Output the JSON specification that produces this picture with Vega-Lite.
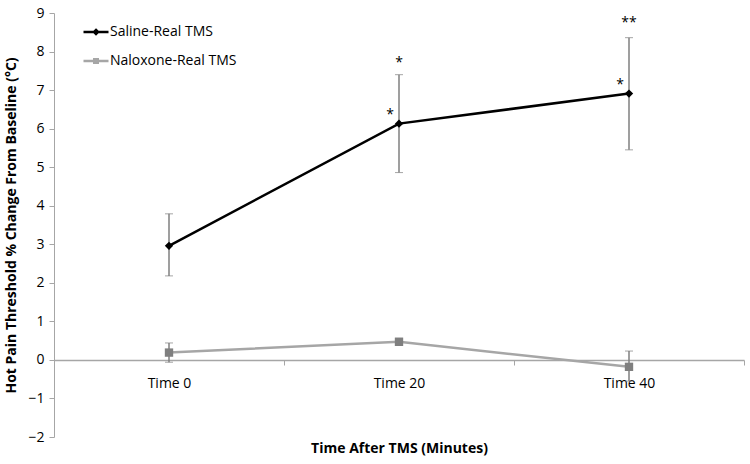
{
  "$schema": "https://vega.github.io/schema/vega-lite/v6.json",
  "width": 690,
  "height": 424,
  "autosize": "none",
  "padding": {"left": 54, "top": 13, "right": 6, "bottom": 27},
  "background": "white",
  "config": {
    "font": "Open Sans",
    "view": {"stroke": null},
    "axis": {"labelFont": "Open Sans", "titleFont": "Open Sans", "labelColor": "#000", "titleColor": "#000", "grid": false},
    "axisY": {
      "title": "Hot Pain Threshold % Change From Baseline (°C)", "titleFontSize": 14, "titleFontWeight": "bold", "titlePadding": 9,
      "labelFontSize": 14, "labelPadding": 5, "tickSize": 5, "domainColor": "#a6a6a6", "tickColor": "#a6a6a6"
    }
  },
  "datasets": {
    "main": [
      {"time": "Time 0", "series": "Saline-Real TMS", "value": 2.96, "lo": 2.18, "hi": 3.79},
      {"time": "Time 20", "series": "Saline-Real TMS", "value": 6.13, "lo": 4.86, "hi": 7.4},
      {"time": "Time 40", "series": "Saline-Real TMS", "value": 6.91, "lo": 5.45, "hi": 8.36},
      {"time": "Time 0", "series": "Naloxone-Real TMS", "value": 0.19, "lo": -0.06, "hi": 0.44},
      {"time": "Time 20", "series": "Naloxone-Real TMS", "value": 0.47, "lo": 0.38, "hi": 0.56},
      {"time": "Time 40", "series": "Naloxone-Real TMS", "value": -0.18, "lo": -0.55, "hi": 0.23}
    ],
    "stars": [
      {"time": "Time 20", "y": 7.79, "label": "*", "kind": "top"},
      {"time": "Time 20", "y": 6.42, "label": "*", "kind": "side"},
      {"time": "Time 40", "y": 8.83, "label": "**", "kind": "top"},
      {"time": "Time 40", "y": 7.22, "label": "*", "kind": "side"}
    ]
  },
  "encoding": {
    "x": {
      "field": "time", "type": "ordinal",
      "scale": {"type": "band", "domain": ["Time 0", "Time 20", "Time 40"], "paddingInner": 0, "paddingOuter": 0},
      "axis": {
        "title": "Time After TMS (Minutes)",
        "titleFontSize": 14, "titleFontWeight": "bold", "titlePadding": 51,
        "labelAngle": 0, "labelFontSize": 14, "labelPadding": 11,
        "offset": -77, "tickBand": "extent", "tickSize": 5,
        "domainColor": "#a6a6a6", "tickColor": "#a6a6a6", "domainWidth": 1.5
      }
    }
  },
  "layer": [
    {
      "data": {"name": "main"},
      "mark": {"type": "errorbar", "ticks": {"size": 8, "color": "#7f7f7f", "strokeWidth": 1.5}, "rule": {"color": "#7f7f7f", "strokeWidth": 1.5}},
      "encoding": {
        "y": {"field": "lo", "type": "quantitative", "scale": {"domain": [-2, 9], "nice": false},
          "axis": {"values": [-2, -1, 0, 1, 2, 3, 4, 5, 6, 7, 8, 9], "title": "Hot Pain Threshold % Change From Baseline (°C)"}},
        "y2": {"field": "hi"},
        "detail": {"field": "series"}
      }
    },
    {
      "data": {"name": "main"},
      "mark": {"type": "line", "strokeWidth": 2.5},
      "encoding": {
        "y": {"field": "value", "type": "quantitative", "scale": {"domain": [-2, 9], "nice": false},
          "axis": {"values": [-2, -1, 0, 1, 2, 3, 4, 5, 6, 7, 8, 9], "title": "Hot Pain Threshold % Change From Baseline (°C)"}},
        "stroke": {"field": "series", "type": "nominal", "scale": {"domain": ["Saline-Real TMS", "Naloxone-Real TMS"], "range": ["#000000", "#a6a6a6"]},
          "legend": {
            "title": null, "orient": "none", "legendX": 28, "legendY": 5,
            "labelFontSize": 14, "labelColor": "#000", "labelOffset": 0, "rowPadding": 8,
            "symbolSize": 625, "symbolStrokeWidth": 2.5,
            "encode": {
              "symbols": {
                "update": {
                  "shape": {"signal": "datum.value == 'Saline-Real TMS' ? 'M-1,0L1,0M0,-0.16L0.16,0L0,0.16L-0.16,0Z' : 'M-1,0L1,0M-0.14,-0.14L0.14,-0.14L0.14,0.14L-0.14,0.14Z'"},
                  "fill": {"signal": "datum.value == 'Saline-Real TMS' ? '#000000' : '#7f7f7f'"},
                  "fillOpacity": {"value": 1}
                }
              }
            }
          }
        }
      }
    },
    {
      "data": {"name": "main"},
      "mark": {"type": "point", "filled": true, "size": 70, "opacity": 1},
      "encoding": {
        "y": {"field": "value", "type": "quantitative", "scale": {"domain": [-2, 9], "nice": false},
          "axis": {"values": [-2, -1, 0, 1, 2, 3, 4, 5, 6, 7, 8, 9], "title": "Hot Pain Threshold % Change From Baseline (°C)"}},
        "fill": {"condition": {"test": "datum.series == 'Naloxone-Real TMS'", "value": "#7f7f7f"}, "value": "#000000"},
        "shape": {"condition": {"test": "datum.series == 'Naloxone-Real TMS'", "value": "square"}, "value": "diamond"}
      }
    },
    {
      "data": {"name": "stars"},
      "transform": [{"filter": "datum.kind == 'top'"}],
      "mark": {"type": "text", "fontSize": 14, "baseline": "middle", "align": "center", "dy": 3},
      "encoding": {
        "y": {"field": "y", "type": "quantitative", "scale": {"domain": [-2, 9], "nice": false},
          "axis": {"values": [-2, -1, 0, 1, 2, 3, 4, 5, 6, 7, 8, 9], "title": "Hot Pain Threshold % Change From Baseline (°C)"}},
        "text": {"field": "label"}
      }
    },
    {
      "data": {"name": "stars"},
      "transform": [{"filter": "datum.kind == 'side'"}],
      "mark": {"type": "text", "fontSize": 14, "baseline": "middle", "align": "center", "dx": -9, "dy": 3},
      "encoding": {
        "y": {"field": "y", "type": "quantitative", "scale": {"domain": [-2, 9], "nice": false},
          "axis": {"values": [-2, -1, 0, 1, 2, 3, 4, 5, 6, 7, 8, 9], "title": "Hot Pain Threshold % Change From Baseline (°C)"}},
        "text": {"field": "label"}
      }
    }
  ]
}
